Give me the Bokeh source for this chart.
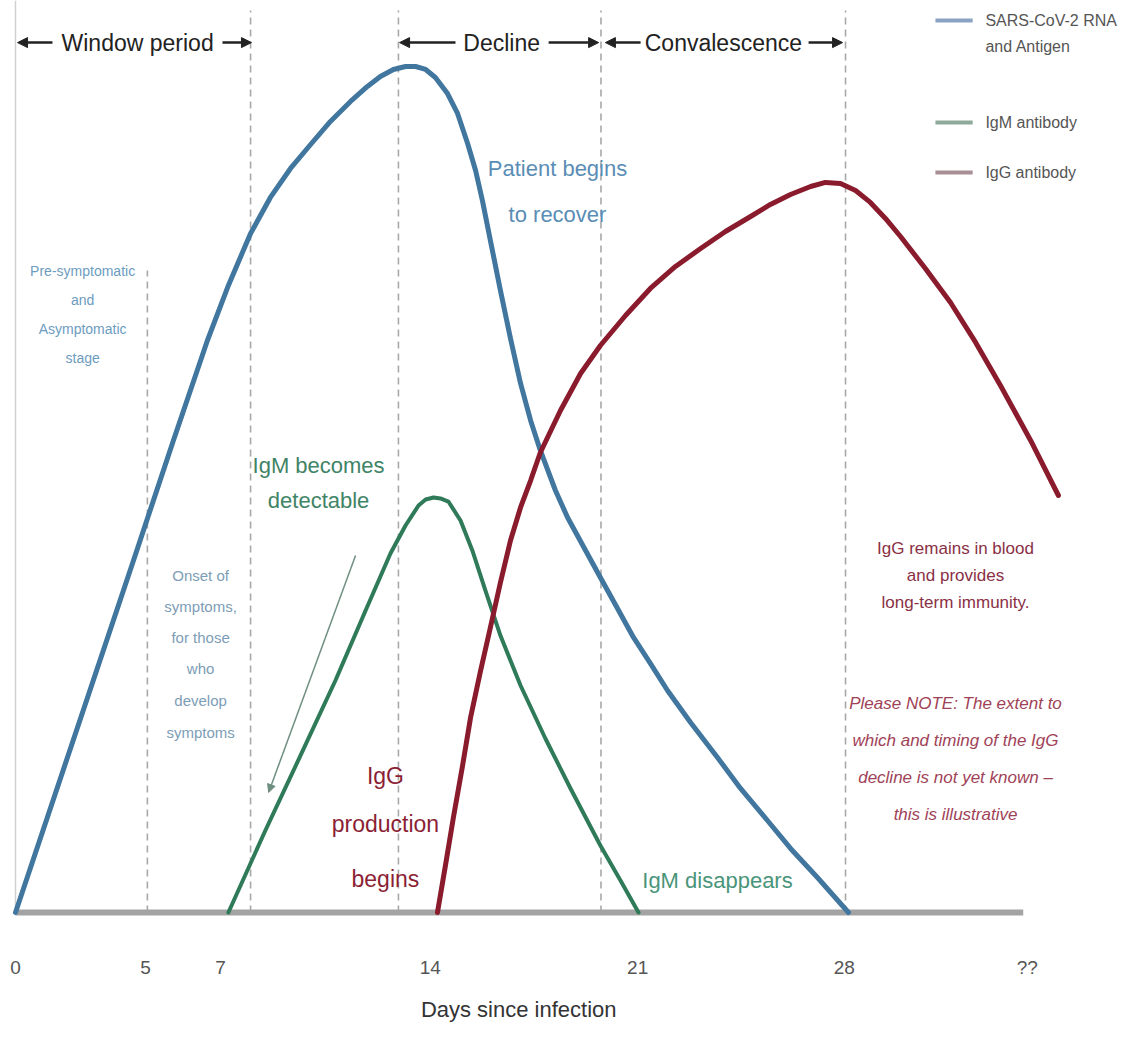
from bokeh.plotting import figure
from bokeh.models import Range1d, FixedTicker, Arrow, NormalHead
from bokeh.core.properties import value
from bokeh.embed import file_html
from bokeh.resources import INLINE

# ---------------- data (days since infection, relative level) ----------------
rna_days = [0, 3.99, 5.34, 6.49, 7.20, 7.95, 8.62, 9.30, 9.98, 10.65, 11.33, 11.90, 12.34,
            12.78, 13.19, 13.53, 13.87, 14.20, 14.61, 14.95, 15.29, 15.56, 15.79, 16.06,
            16.40, 16.74, 17.08, 17.42, 17.75, 18.26, 18.67, 19.28, 19.78, 20.36, 20.90,
            21.47, 22.05, 22.83, 23.74, 24.52, 25.43, 26.21, 27.12, 28.17]
rna_level = [0, 41.56, 55.73, 67.53, 74.03, 80.17, 84.42, 87.84, 90.67, 93.39, 95.75, 97.52, 98.70,
             99.53, 99.88, 99.88, 99.53, 98.58, 96.69, 94.33, 90.79, 87.60, 84.06, 79.34,
             73.44, 67.77, 62.46, 58.09, 54.55, 49.82, 46.64, 42.74, 39.55, 35.89, 32.47,
             29.40, 26.21, 22.43, 18.30, 14.64, 10.86, 7.56, 4.13, 0]

igm_days = [7.20, 8.45, 9.64, 10.82, 11.84, 12.68, 13.19, 13.63, 13.87, 14.14, 14.37, 14.64,
            15.05, 15.45, 15.89, 16.40, 17.08, 17.92, 18.77, 19.78, 20.46, 21.07]
igm_level = [0, 9.68, 18.54, 27.39, 35.66, 42.39, 45.69, 48.05, 48.76, 49.00, 48.88, 48.52,
             46.28, 42.74, 38.02, 32.70, 26.80, 20.54, 14.64, 7.91, 3.78, 0]

igg_days = [14.27, 14.54, 14.81, 15.12, 15.39, 15.73, 16.06, 16.40, 16.74, 17.08, 17.42,
            17.75, 18.43, 19.11, 19.78, 20.63, 21.47, 22.32, 23.17, 24.01, 24.86, 25.53,
            26.21, 26.89, 27.39, 27.90, 28.41, 28.91, 29.42, 29.93, 30.77, 31.62, 32.47,
            33.31, 34.33, 35.27]
igg_level = [0, 5.55, 11.22, 17.36, 23.02, 28.57, 33.65, 38.96, 43.92, 47.82, 51.00,
             54.31, 59.27, 63.64, 66.94, 70.48, 73.67, 76.27, 78.39, 80.40, 82.17, 83.59,
             84.77, 85.71, 86.19, 86.07, 85.24, 83.83, 81.94, 79.81, 76.03, 72.02, 67.30,
             62.22, 55.73, 49.23]

tick_days = [0, 4.40, 6.93, 14.03, 21.04, 28.03, 34.22]
tick_labels = ["0", "5", "7", "14", "21", "28", "??"]

phase_lines = [4.46, 7.95, 12.95, 19.80, 28.07]
phase_tops = [75.8, 106.5, 106.5, 106.5, 106.5]

legend_labels = ["SARS-CoV-2 RNA", "and Antigen", "IgM antibody", "IgG antibody"]

# ---------------- styling ----------------
FONT = "Liberation Sans"
BLUE = "#41769f"
GREEN = "#2f7a59"
RED = "#8a1b2d"

p = figure(width=1122, height=1037, output_backend="svg", toolbar_location=None,
           x_range=Range1d(-0.507, 37.437), y_range=Range1d(-0.71, 107.67),
           y_axis_location=None, min_border_left=0, min_border_right=0,
           min_border_top=0, min_border_bottom=119)
p.outline_line_color = None
p.xgrid.visible = False
p.ygrid.visible = False
p.background_fill_color = "white"
p.border_fill_color = "white"

ax = p.xaxis[0]
ax.ticker = FixedTicker(ticks=tick_days)
ax.major_label_overrides = {t: l for t, l in zip(tick_days, tick_labels)}
ax.axis_line_color = None
ax.major_tick_line_color = None
ax.minor_tick_line_color = None
ax.major_tick_in = 0
ax.major_tick_out = 0
ax.major_label_standoff = 38
ax.major_label_text_font = FONT
ax.major_label_text_font_size = "19px"
ax.major_label_text_color = "#555555"
# title padded with no-break spaces so that it sits left of centre, as in the original
ax.axis_label = "Days since infection" + "\u00a0" * 14
ax.axis_label_standoff = 16
ax.axis_label_text_font = FONT
ax.axis_label_text_font_size = "22px"
ax.axis_label_text_font_style = "normal"
ax.axis_label_text_color = "#333333"

# faint left edge line
p.segment(x0=[0], y0=[0], x1=[0], y1=[107.67], line_color="#d0d0d0", line_width=1.5)

# phase dashed lines
p.segment(x0=phase_lines, y0=[0] * len(phase_lines), x1=phase_lines, y1=phase_tops,
          line_color="#a8a8a8", line_width=1.6, line_dash="7 5")

# baseline
p.line(x=[0, 34.08], y=[0, 0], line_color="#a3a3a3", line_width=6)

# curves
p.line(x=rna_days, y=rna_level, line_color=BLUE, line_width=5, line_join="round", line_cap="round")
p.line(x=igm_days, y=igm_level, line_color=GREEN, line_width=4, line_join="round", line_cap="round")
p.line(x=igg_days, y=igg_level, line_color=RED, line_width=5, line_join="round", line_cap="round")


def txt(xs, ys, texts, size, color, style="normal"):
    p.text(x=xs, y=ys, text=texts, text_font=value(FONT), text_font_size=value(size),
           text_color=color, text_align="center", text_baseline="middle",
           text_font_style=style)


# header phases
txt([4.13, 16.44, 23.94], [102.7] * 3, ["Window period", "Decline", "Convalescence"], "23px", "#222222")
for xs, xe in [(1.25, 0.07), (7.00, 7.98), (14.88, 12.99), (18.03, 19.72), (21.14, 19.95), (26.82, 27.97)]:
    p.add_layout(Arrow(end=NormalHead(size=10, fill_color="#222222", line_color="#222222", line_width=1),
                       x_start=xs, y_start=102.7, x_end=xe, y_end=102.7,
                       line_color="#222222", line_width=2.5))

# legend (manual)
leg_colors = ["#8aa3c4", "#8fa99b", "#a88f96"]
leg_y = [105.3, 93.27, 87.37]
p.segment(x0=[31.11] * 3, y0=leg_y, x1=[32.37] * 3, y1=leg_y, line_color=leg_colors, line_width=4)
p.text(x=[32.80] * 4, y=[105.31, 102.24, 93.27, 87.37], text=legend_labels,
       text_font=value(FONT), text_font_size=value("16px"), text_color="#555555",
       text_align="left", text_baseline="middle")

# annotations
txt([2.27] * 4, [75.68, 72.26, 68.83, 65.41], ["Pre-symptomatic", "and", "Asymptomatic", "stage"],
    "14px", "#6d9cbf")
txt([6.26] * 6, [39.79, 36.13, 32.47, 28.81, 25.03, 21.25],
    ["Onset of", "symptoms,", "for those", "who", "develop", "symptoms"], "15px", "#7d9db6")
txt([18.33] * 2, [87.84, 82.41], ["Patient begins", "to recover"], "22px", "#5a8db5")
txt([10.25] * 2, [52.77, 48.64], ["IgM becomes", "detectable"], "22px", "#3f8466")
txt([12.51] * 3, [16.17, 10.39, 4.01], ["IgG", "production", "begins"], "23px", "#8b1f35")
txt([23.74], [3.78], ["IgM disappears"], "22px", "#4a957a")
txt([31.79] * 3, [42.98, 39.79, 36.60], ["IgG remains in blood", "and provides", "long-term immunity."],
    "17px", "#8a3045")
txt([31.79] * 4, [24.68, 20.31, 15.94, 11.57],
    ["Please NOTE: The extent to", "which and timing of the IgG", "decline is not yet known \u2013",
     "this is illustrative"], "17px", "#a04257", style="italic")

# IgM pointer arrow
p.add_layout(Arrow(end=NormalHead(size=8, fill_color="#6f8f80", line_color="#6f8f80"),
                   x_start=11.50, y_start=42.15, x_end=8.56, y_end=14.17,
                   line_color="#6f8f80", line_width=1.5))

open("out.html", "w").write(file_html(p, INLINE))
